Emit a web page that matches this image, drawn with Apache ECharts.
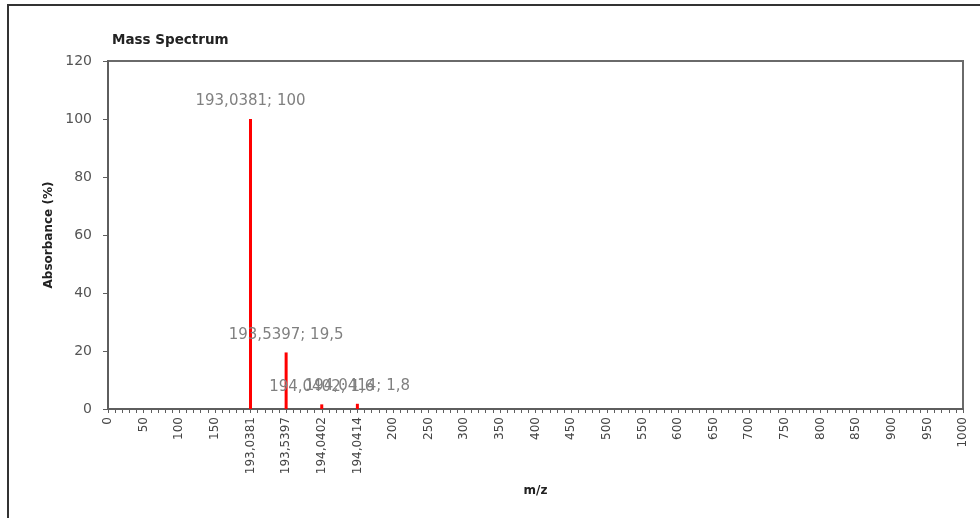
<!DOCTYPE html>
<html>
<head>
<meta charset="utf-8">
<script src="https://cdn.jsdelivr.net/npm/echarts@6/dist/echarts.min.js"></script>
<style>
  html, body { margin: 0; padding: 0; background: #fff; }
  #chart { width: 980px; height: 518px; }
</style>
</head>
<body>
<div id="chart"></div>
<script>
// Labelled positions along the m/z axis (evenly spaced, Excel-style text axis)
const axisLabels = ['0', '50', '100', '150', '193,0381', '193,5397', '194,0402', '194,0414',
  '200', '250', '300', '350', '400', '450', '500', '550', '600', '650', '700', '750',
  '800', '850', '900', '950', '1000'];
// Peaks: m/z and relative abundance (%)
const peakMz = ['193,0381', '193,5397', '194,0402', '194,0414'];
const peakAbs = [100, 19.5, 1.6, 1.8];
// Y axis ticks
const yTicks = [0, 20, 40, 60, 80, 100, 120];

// Minor tick slots between labelled positions
const MINOR = 4;
const categories = [];
axisLabels.forEach((lab, i) => {
  categories.push(lab);
  if (i < axisLabels.length - 1) {
    for (let k = 0; k < MINOR; k++) categories.push('');
  }
});
const barData = categories.map(c => {
  const j = peakMz.indexOf(c);
  return j >= 0 ? peakAbs[j] : '-';
});

const FONT = 'DejaVu Sans';
const axisColor = '#5e5e5e';

const chart = echarts.init(document.getElementById('chart'), null, { renderer: 'canvas' });
chart.setOption({
  animation: false,
  backgroundColor: '#fff',
  title: {
    text: 'Mass Spectrum',
    left: 107, top: 28,
    textStyle: { fontFamily: FONT, fontSize: 13.5, fontWeight: 'bold', color: '#222' }
  },
  graphic: [{
    type: 'rect',
    shape: { x: 8, y: 5, width: 1000, height: 600 },
    style: { fill: 'none', stroke: '#333', lineWidth: 2 },
    silent: true
  }],
  grid: {
    left: 108, right: 17, top: 61, bottom: 109,
    show: true, borderColor: '#6a6a6a', borderWidth: 2, backgroundColor: 'transparent'
  },
  xAxis: {
    type: 'category',
    data: categories,
    boundaryGap: false,
    name: 'm/z',
    nameLocation: 'middle',
    nameGap: 76,
    nameTextStyle: { fontFamily: FONT, fontSize: 12, fontWeight: 'bold', color: '#222' },
    axisLine: { show: true, lineStyle: { color: axisColor, width: 2 } },
    axisTick: { show: true, interval: 0, length: 4, lineStyle: { color: axisColor } },
    axisLabel: {
      interval: (idx) => idx % (MINOR + 1) === 0,
      rotate: 90,
      margin: 8,
      fontFamily: FONT, fontSize: 12, color: '#444'
    },
    splitLine: { show: false }
  },
  yAxis: {
    type: 'value',
    min: yTicks[0], max: yTicks[yTicks.length - 1], interval: 20,
    name: 'Absorbance (%)',
    nameLocation: 'middle',
    nameGap: 50,
    nameTextStyle: { fontFamily: FONT, fontSize: 12, fontWeight: 'bold', color: '#222' },
    axisLine: { show: true, lineStyle: { color: axisColor, width: 2 } },
    axisTick: { show: true, length: 5, lineStyle: { color: axisColor } },
    axisLabel: { margin: 16, fontFamily: FONT, fontSize: 14, color: '#555' },
    splitLine: { show: false }
  },
  series: [{
    type: 'bar',
    data: barData,
    barWidth: 3,
    itemStyle: { color: '#ff0000' },
    label: {
      show: true,
      position: 'top',
      distance: 10,
      fontFamily: FONT, fontSize: 15, color: '#808080',
      formatter: (p) => p.name + '; ' + String(p.value).replace('.', ',')
    }
  }]
});
</script>
</body>
</html>
